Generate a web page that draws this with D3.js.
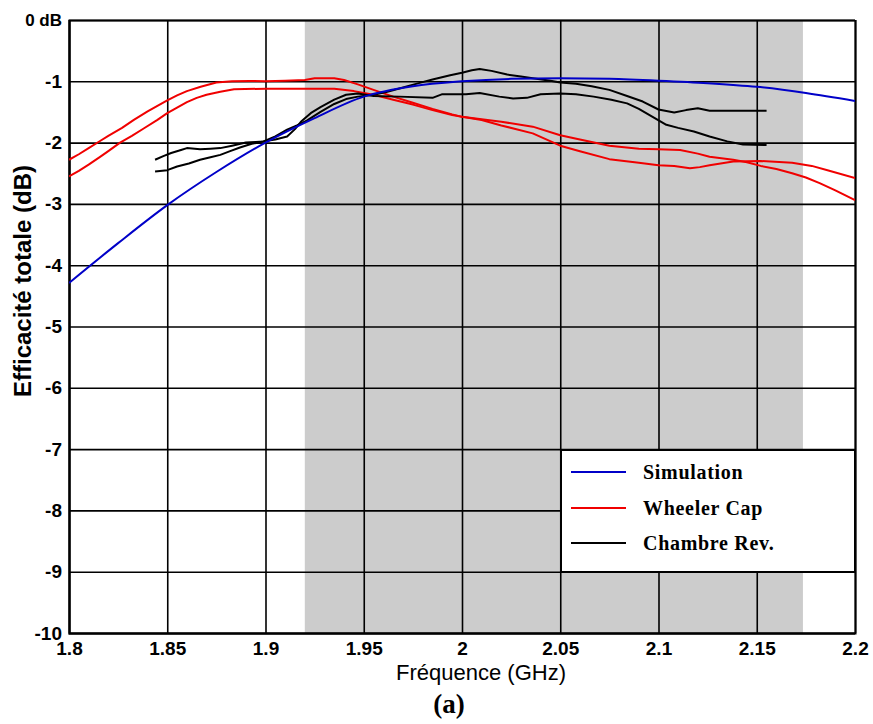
<!DOCTYPE html>
<html>
<head>
<meta charset="utf-8">
<script src="https://cdn.jsdelivr.net/npm/d3@7"></script>
<style>
  html, body { margin: 0; padding: 0; background: #fff; }
  svg { display: block; }
</style>
</head>
<body>
<svg id="chart" width="873" height="724"></svg>
<script>
// ---- Data ----
const freqTicks = [1.8, 1.85, 1.9, 1.95, 2.0, 2.05, 2.1, 2.15, 2.2];
const freqTickLabels = ["1.8", "1.85", "1.9", "1.95", "2", "2.05", "2.1", "2.15", "2.2"];
const dbTicks = [0, -1, -2, -3, -4, -5, -6, -7, -8, -9, -10];
const dbTickLabels = ["0 dB", "-1", "-2", "-3", "-4", "-5", "-6", "-7", "-8", "-9", "-10"];
const band = [1.92, 2.1735];

const seriesNames = ["Simulation", "Wheeler Cap", "Chambre Rev."];

const simulation = [[1.8,-4.29],[1.825,-3.64],[1.85,-3.02],[1.875,-2.48],[1.9,-2.0],[1.925,-1.6],[1.95,-1.25],[1.975,-1.08],[2.0,-1.0],[2.025,-0.96],[2.05,-0.95],[2.075,-0.96],[2.1,-0.99],[2.125,-1.03],[2.15,-1.09],[2.175,-1.19],[2.2,-1.32]];

const wheelerA = [[1.8,-2.28],[1.805,-2.19],[1.81,-2.09],[1.816,-1.97],[1.82,-1.89],[1.827,-1.76],[1.833,-1.63],[1.84,-1.49],[1.845,-1.4],[1.85,-1.31],[1.855,-1.23],[1.86,-1.16],[1.867,-1.09],[1.875,-1.02],[1.883,-1.0],[1.892,-0.995],[1.9,-1.0],[1.91,-0.99],[1.92,-0.98],[1.925,-0.95],[1.935,-0.95],[1.94,-0.98],[1.947,-1.05],[1.955,-1.14],[1.965,-1.25],[1.975,-1.35],[1.985,-1.45],[1.995,-1.54],[2.0,-1.58],[2.01,-1.62],[2.02,-1.66],[2.036,-1.74],[2.05,-1.88],[2.06,-1.95],[2.075,-2.05],[2.09,-2.1],[2.1,-2.11],[2.111,-2.12],[2.12,-2.18],[2.126,-2.23],[2.138,-2.28],[2.145,-2.32],[2.152,-2.38],[2.16,-2.43],[2.168,-2.5],[2.175,-2.57],[2.182,-2.66],[2.19,-2.78],[2.2,-2.94]];

const wheelerB = [[1.8,-2.55],[1.805,-2.46],[1.81,-2.36],[1.816,-2.23],[1.82,-2.14],[1.826,-2.0],[1.832,-1.89],[1.838,-1.77],[1.845,-1.63],[1.85,-1.52],[1.855,-1.43],[1.86,-1.34],[1.865,-1.27],[1.87,-1.22],[1.877,-1.17],[1.884,-1.13],[1.9,-1.12],[1.92,-1.12],[1.935,-1.12],[1.945,-1.16],[1.955,-1.22],[1.965,-1.3],[1.975,-1.38],[1.985,-1.47],[1.995,-1.55],[2.0,-1.58],[2.01,-1.63],[2.02,-1.72],[2.036,-1.85],[2.05,-2.05],[2.06,-2.14],[2.075,-2.27],[2.09,-2.33],[2.1,-2.37],[2.108,-2.38],[2.116,-2.42],[2.121,-2.4],[2.126,-2.37],[2.138,-2.31],[2.152,-2.3],[2.168,-2.33],[2.178,-2.38],[2.186,-2.45],[2.2,-2.58]];

const chambreA = [[1.8438,-2.28],[1.848,-2.22],[1.852,-2.17],[1.857,-2.12],[1.86,-2.09],[1.864,-2.1],[1.8667,-2.11],[1.872,-2.1],[1.877,-2.09],[1.883,-2.05],[1.89,-2.0],[1.895,-1.99],[1.899,-1.98],[1.905,-1.95],[1.911,-1.9],[1.915,-1.78],[1.918,-1.66],[1.923,-1.52],[1.928,-1.42],[1.935,-1.3],[1.941,-1.22],[1.947,-1.2],[1.955,-1.24],[1.968,-1.25],[1.985,-1.27],[1.99,-1.21],[2.002,-1.21],[2.009,-1.19],[2.019,-1.25],[2.026,-1.28],[2.033,-1.27],[2.04,-1.21],[2.05,-1.2],[2.058,-1.21],[2.067,-1.25],[2.076,-1.3],[2.084,-1.36],[2.09,-1.45],[2.097,-1.58],[2.104,-1.71],[2.11,-1.76],[2.118,-1.82],[2.126,-1.9],[2.135,-1.98],[2.143,-2.03],[2.155,-2.04]];

const chambreB = [[1.8438,-2.47],[1.85,-2.45],[1.855,-2.39],[1.861,-2.34],[1.8667,-2.28],[1.872,-2.24],[1.877,-2.2],[1.882,-2.14],[1.887,-2.08],[1.893,-2.02],[1.899,-1.98],[1.905,-1.9],[1.911,-1.79],[1.916,-1.72],[1.921,-1.64],[1.928,-1.5],[1.935,-1.37],[1.941,-1.29],[1.947,-1.25],[1.955,-1.22],[1.962,-1.17],[1.97,-1.1],[1.978,-1.03],[1.985,-0.97],[1.994,-0.9],[2.0,-0.86],[2.005,-0.82],[2.009,-0.8],[2.015,-0.83],[2.023,-0.89],[2.03,-0.92],[2.036,-0.95],[2.045,-0.99],[2.05,-1.02],[2.058,-1.04],[2.066,-1.08],[2.075,-1.14],[2.084,-1.24],[2.092,-1.33],[2.1,-1.46],[2.108,-1.51],[2.114,-1.47],[2.12,-1.44],[2.126,-1.48],[2.14,-1.48],[2.155,-1.48]];

// ---- Layout ----
const L = 69, R = 855, T = 20, B = 633;
const colors = { sim: "#0000c8", wheeler: "#f00000", chambre: "#000000" };

const svg = d3.select("#chart");
svg.append("rect").attr("width", 873).attr("height", 724).attr("fill", "#fff");

const x = d3.scaleLinear().domain([1.8, 2.2]).range([L, R]);
const y = d3.scaleLinear().domain([-10, 0]).range([B, T]);

// shaded band
svg.append("rect")
  .attr("x", x(band[0])).attr("y", T)
  .attr("width", x(band[1]) - x(band[0])).attr("height", B - T)
  .attr("fill", "#cccccc");

// x axis with gridlines
const xAxis = d3.axisBottom(x)
  .tickValues(freqTicks)
  .tickFormat((d, i) => freqTickLabels[i])
  .tickSize(-(B - T))
  .tickPadding(9);
const gx = svg.append("g").attr("transform", `translate(0,${B})`).call(xAxis);
gx.select(".domain").attr("stroke", "#000").attr("stroke-width", 2);
gx.selectAll(".tick line").attr("stroke", "#000").attr("stroke-width", 1.6);
gx.selectAll(".tick text")
  .attr("font-family", "'Liberation Sans', Arial, sans-serif")
  .attr("font-weight", "bold").attr("font-size", 19).attr("fill", "#000");

// y axis with gridlines
const yAxis = d3.axisLeft(y)
  .tickValues(dbTicks)
  .tickFormat((d, i) => dbTickLabels[i])
  .tickSize(-(R - L))
  .tickPadding(7);
const gy = svg.append("g").attr("transform", `translate(${L},0)`).call(yAxis);
gy.select(".domain").attr("stroke", "#000").attr("stroke-width", 2);
gy.selectAll(".tick line").attr("stroke", "#000").attr("stroke-width", 1.6);
gy.selectAll(".tick text")
  .attr("font-family", "'Liberation Sans', Arial, sans-serif")
  .attr("font-weight", "bold").attr("font-size", (d) => d === 0 ? 17 : 19).attr("fill", "#000");

// clip
svg.append("clipPath").attr("id", "plotclip")
  .append("rect").attr("x", L).attr("y", T).attr("width", R - L).attr("height", B - T);

const line = d3.line().x(d => x(d[0])).y(d => y(d[1]));
const smooth = d3.line().x(d => x(d[0])).y(d => y(d[1])).curve(d3.curveMonotoneX);

const gl = svg.append("g").attr("clip-path", "url(#plotclip)");
[[wheelerA, colors.wheeler], [wheelerB, colors.wheeler]].forEach(([data, c]) => {
  gl.append("path").datum(data).attr("d", line).attr("fill", "none")
    .attr("stroke", c).attr("stroke-width", 2).attr("stroke-linejoin", "round");
});
[chambreA, chambreB].forEach(data => {
  gl.append("path").datum(data).attr("d", line).attr("fill", "none")
    .attr("stroke", colors.chambre).attr("stroke-width", 2).attr("stroke-linejoin", "round");
});
gl.append("path").datum(simulation).attr("d", smooth).attr("fill", "none")
  .attr("stroke", colors.sim).attr("stroke-width", 2);

// axis titles
svg.append("text")
  .attr("x", 481).attr("y", 680)
  .attr("text-anchor", "middle")
  .attr("font-family", "'Liberation Sans', Arial, sans-serif")
  .attr("font-size", 22)
  .text("Fréquence (GHz)");

svg.append("text")
  .attr("transform", "translate(31,281) rotate(-90)")
  .attr("text-anchor", "middle")
  .attr("font-family", "'Liberation Sans', Arial, sans-serif")
  .attr("font-weight", "bold")
  .attr("font-size", 24)
  .text("Efficacité totale (dB)");

svg.append("text")
  .attr("x", 449).attr("y", 713)
  .attr("text-anchor", "middle")
  .attr("font-family", "'Liberation Serif', 'Times New Roman', serif")
  .attr("font-weight", "bold")
  .attr("font-size", 27)
  .text("(a)");

// legend
const lg = svg.append("g");
lg.append("rect").attr("x", 561).attr("y", 450).attr("width", R - 561).attr("height", 122)
  .attr("fill", "#fff").attr("stroke", "#000").attr("stroke-width", 2);
const legendItems = [
  { name: seriesNames[0], color: colors.sim, y: 472 },
  { name: seriesNames[1], color: colors.wheeler, y: 508 },
  { name: seriesNames[2], color: colors.chambre, y: 543 }
];
legendItems.forEach(it => {
  lg.append("line").attr("x1", 571).attr("x2", 626).attr("y1", it.y).attr("y2", it.y)
    .attr("stroke", it.color).attr("stroke-width", 2);
  lg.append("text").attr("x", 643).attr("y", it.y + 7)
    .attr("font-family", "'Liberation Serif', 'Times New Roman', serif")
    .attr("font-weight", "bold").attr("font-size", 20)
    .attr("letter-spacing", 0.7)
    .text(it.name);
});
</script>
</body>
</html>
